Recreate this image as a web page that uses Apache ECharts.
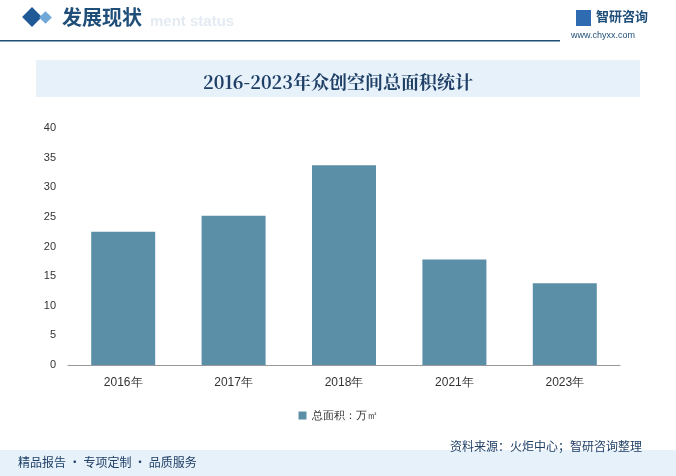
<!DOCTYPE html>
<html><head><meta charset="utf-8">
<script src="https://cdn.jsdelivr.net/npm/echarts@6/dist/echarts.min.js"></script>
<style>html,body{margin:0;padding:0;background:#fff}#c{width:676px;height:476px}</style>
</head><body><div id="c"></div>
<script>
const categories = ['2016年','2017年','2018年','2021年','2023年'];
const values = [22.5, 25.2, 33.7, 17.8, 13.8];
const seriesName = '总面积：万㎡';
const chart = echarts.init(document.getElementById('c'));
chart.setOption({
  animation:false,
  title:{text:'2016-2023年众创空间总面积统计',left:'center',top:68,textStyle:{fontSize:18,fontWeight:'bold',color:'#1f3f66',fontFamily:'Noto Serif CJK SC, Noto Sans CJK SC, serif'}},
  graphic:[
    {type:'rect',shape:{x:36,y:60,width:604,height:37},style:{fill:'#e6f1fa'},z:-1},
    {type:'rect',shape:{x:0,y:40,width:560,height:1.5},style:{fill:'#1f4e79'}},
    {type:'rect',shape:{x:25,y:10,width:14,height:14},rotation:Math.PI/4,originX:32,originY:17,style:{fill:'#1f5a96'}},
    {type:'rect',shape:{x:41,y:13,width:9,height:9},rotation:Math.PI/4,originX:45.5,originY:17.5,style:{fill:'#6fa7d8'}},
    {type:'text',left:62,top:7,style:{text:'发展现状',fontSize:20,fontWeight:'bold',fill:'#1f4e79',fontFamily:'Noto Sans CJK SC'}},
    {type:'text',left:150,top:14,style:{text:'ment status',fontSize:15,fontWeight:'bold',fill:'#e4ebf2'}},
    {type:'text',left:596,top:10,style:{text:'智研咨询',fontSize:13,fontWeight:'bold',fill:'#1f4e79',fontFamily:'Noto Sans CJK SC'}},
    {type:'rect',shape:{x:576,y:10,width:15,height:16},style:{fill:'#2f6bb0'}},
    {type:'text',left:571,top:31,style:{text:'www.chyxx.com',fontSize:9,fill:'#1f4e79'}},
    {type:'rect',shape:{x:0,y:450,width:676,height:26},style:{fill:'#e6f1fa'}},
    {type:'text',left:18,top:456,style:{text:'精品报告 · 专项定制 · 品质服务',fontSize:12,fill:'#1f3f66',fontFamily:'Noto Sans CJK SC'}},
    {type:'text',left:450,top:440,style:{text:'资料来源：火炬中心；智研咨询整理',fontSize:12,fill:'#1f3f66',fontFamily:'Noto Sans CJK SC'}}
  ],
  grid:{left:68,right:56,top:128,bottom:111},
  legend:{bottom:50,left:'center',itemWidth:8,itemHeight:8,icon:'rect',textStyle:{fontSize:11,color:'#333'}},
  xAxis:{type:'category',data:categories,axisTick:{show:false},axisLine:{lineStyle:{color:'#999'}},axisLabel:{color:'#333',fontSize:12,margin:12}},
  yAxis:{type:'value',min:0,max:40,interval:5,splitLine:{show:false},axisLine:{show:false},axisTick:{show:false},axisLabel:{color:'#333',fontSize:11,margin:12}},
  series:[{name:seriesName,type:'bar',data:values,barWidth:64,itemStyle:{color:'#5b8fa8'}}]
});
</script></body></html>
